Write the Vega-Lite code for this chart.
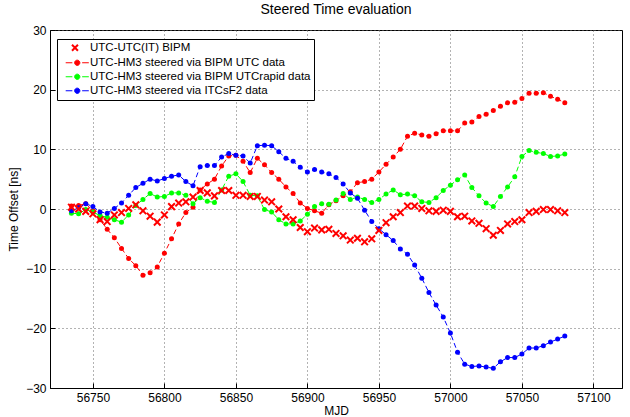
{
  "$schema": "https://vega.github.io/schema/vega-lite/v6.json",
  "width": 572,
  "height": 358,
  "autosize": "none",
  "padding": {"left": 50, "top": 30, "right": 8, "bottom": 29},
  "background": "white",
  "title": {"text": "Steered Time evaluation", "fontSize": 14, "font": "Liberation Sans", "fontWeight": "normal", "color": "black", "offset": 7},
  "data": {"values": [
    {"mjd": 56735, "it": 0.3, "utc": 0.5, "rapid": -0.7, "itcs": -0.3},
    {"mjd": 56740, "it": 0.0, "utc": 0.6, "rapid": -0.8, "itcs": 0.2},
    {"mjd": 56745, "it": -0.4, "utc": 0.9, "rapid": -0.1, "itcs": 0.9},
    {"mjd": 56750, "it": -0.8, "utc": -0.3, "rapid": -0.5, "itcs": 0.4},
    {"mjd": 56755, "it": -1.8, "utc": -1.8, "rapid": -1.1, "itcs": -0.5},
    {"mjd": 56760, "it": -2.1, "utc": -3.4, "rapid": -1.4, "itcs": -0.7},
    {"mjd": 56765, "it": -1.0, "utc": -4.8, "rapid": -1.8, "itcs": 0.1},
    {"mjd": 56770, "it": -0.6, "utc": -6.6, "rapid": -2.2, "itcs": 1.0},
    {"mjd": 56775, "it": 0.1, "utc": -8.3, "rapid": -1.0, "itcs": 2.3},
    {"mjd": 56780, "it": 0.7, "utc": -9.5, "rapid": 0.6, "itcs": 3.6},
    {"mjd": 56785, "it": -0.3, "utc": -11.1, "rapid": 1.6, "itcs": 4.3},
    {"mjd": 56790, "it": -1.2, "utc": -10.7, "rapid": 2.6, "itcs": 5.0},
    {"mjd": 56795, "it": -2.2, "utc": -9.7, "rapid": 2.0, "itcs": 4.7},
    {"mjd": 56800, "it": -1.0, "utc": -7.4, "rapid": 2.1, "itcs": 5.1},
    {"mjd": 56805, "it": 0.4, "utc": -5.0, "rapid": 2.7, "itcs": 5.5},
    {"mjd": 56810, "it": 1.0, "utc": -2.5, "rapid": 2.7, "itcs": 5.7},
    {"mjd": 56815, "it": 1.2, "utc": -0.6, "rapid": 2.3, "itcs": 4.6},
    {"mjd": 56820, "it": 2.0, "utc": 0.3, "rapid": 0.9, "itcs": 3.9},
    {"mjd": 56825, "it": 3.1, "utc": 3.2, "rapid": 1.9, "itcs": 7.1},
    {"mjd": 56830, "it": 2.7, "utc": 4.2, "rapid": 1.3, "itcs": 7.3},
    {"mjd": 56835, "it": 2.2, "utc": 5.0, "rapid": 1.1, "itcs": 7.3},
    {"mjd": 56840, "it": 3.1, "utc": 7.2, "rapid": 3.2, "itcs": 8.7},
    {"mjd": 56845, "it": 3.1, "utc": 8.9, "rapid": 5.5, "itcs": 9.3},
    {"mjd": 56850, "it": 2.3, "utc": 9.0, "rapid": 5.9, "itcs": 9.0},
    {"mjd": 56855, "it": 2.3, "utc": 8.0, "rapid": 4.6, "itcs": 8.9},
    {"mjd": 56860, "it": 2.1, "utc": 6.1, "rapid": 2.3, "itcs": 7.7},
    {"mjd": 56865, "it": 2.1, "utc": 8.5, "rapid": 2.2, "itcs": 10.6},
    {"mjd": 56870, "it": 1.5, "utc": 7.4, "rapid": -0.1, "itcs": 10.7},
    {"mjd": 56875, "it": 1.2, "utc": 6.1, "rapid": -0.5, "itcs": 10.6},
    {"mjd": 56880, "it": 0.0, "utc": 5.0, "rapid": -1.8, "itcs": 9.6},
    {"mjd": 56885, "it": -1.3, "utc": 3.7, "rapid": -2.5, "itcs": 8.5},
    {"mjd": 56890, "it": -1.8, "utc": 2.6, "rapid": -2.5, "itcs": 8.0},
    {"mjd": 56895, "it": -3.1, "utc": 1.0, "rapid": -2.0, "itcs": 7.0},
    {"mjd": 56900, "it": -3.8, "utc": 0.1, "rapid": -0.9, "itcs": 6.2},
    {"mjd": 56905, "it": -3.2, "utc": -0.3, "rapid": 0.4, "itcs": 6.6},
    {"mjd": 56910, "it": -3.5, "utc": -0.7, "rapid": 0.9, "itcs": 6.2},
    {"mjd": 56915, "it": -3.4, "utc": 0.7, "rapid": 0.8, "itcs": 5.9},
    {"mjd": 56920, "it": -4.1, "utc": 1.4, "rapid": 1.5, "itcs": 5.3},
    {"mjd": 56925, "it": -4.5, "utc": 2.2, "rapid": 2.6, "itcs": 4.2},
    {"mjd": 56930, "it": -5.2, "utc": 2.9, "rapid": 1.6, "itcs": 2.7},
    {"mjd": 56935, "it": -4.9, "utc": 4.4, "rapid": 2.0, "itcs": 1.8},
    {"mjd": 56940, "it": -5.5, "utc": 4.6, "rapid": 1.6, "itcs": -0.2},
    {"mjd": 56945, "it": -5.0, "utc": 5.0, "rapid": 1.1, "itcs": -2.1},
    {"mjd": 56950, "it": -3.6, "utc": 6.2, "rapid": 1.6, "itcs": -3.3},
    {"mjd": 56955, "it": -2.3, "utc": 7.5, "rapid": 2.5, "itcs": -4.3},
    {"mjd": 56960, "it": -1.3, "utc": 8.7, "rapid": 3.2, "itcs": -5.3},
    {"mjd": 56965, "it": -0.6, "utc": 10.0, "rapid": 2.4, "itcs": -6.7},
    {"mjd": 56970, "it": 0.5, "utc": 12.2, "rapid": 2.5, "itcs": -7.6},
    {"mjd": 56975, "it": 0.5, "utc": 12.7, "rapid": 2.2, "itcs": -9.4},
    {"mjd": 56980, "it": 0.1, "utc": 12.4, "rapid": 1.2, "itcs": -11.6},
    {"mjd": 56985, "it": -0.3, "utc": 12.2, "rapid": 1.1, "itcs": -14.0},
    {"mjd": 56990, "it": -0.4, "utc": 12.6, "rapid": 1.9, "itcs": -16.1},
    {"mjd": 56995, "it": -0.2, "utc": 13.1, "rapid": 3.1, "itcs": -18.1},
    {"mjd": 57000, "it": -0.4, "utc": 13.1, "rapid": 4.0, "itcs": -20.8},
    {"mjd": 57005, "it": -1.3, "utc": 13.1, "rapid": 4.9, "itcs": -24.0},
    {"mjd": 57010, "it": -1.2, "utc": 14.4, "rapid": 5.7, "itcs": -26.0},
    {"mjd": 57015, "it": -2.0, "utc": 14.6, "rapid": 3.6, "itcs": -26.4},
    {"mjd": 57020, "it": -2.4, "utc": 15.5, "rapid": 2.2, "itcs": -26.3},
    {"mjd": 57025, "it": -3.3, "utc": 15.9, "rapid": 1.0, "itcs": -26.5},
    {"mjd": 57030, "it": -4.4, "utc": 16.5, "rapid": 0.4, "itcs": -26.7},
    {"mjd": 57035, "it": -3.6, "utc": 17.2, "rapid": 2.1, "itcs": -25.6},
    {"mjd": 57040, "it": -2.5, "utc": 17.8, "rapid": 3.7, "itcs": -24.9},
    {"mjd": 57045, "it": -2.1, "utc": 17.9, "rapid": 5.4, "itcs": -24.9},
    {"mjd": 57050, "it": -1.8, "utc": 18.5, "rapid": 8.8, "itcs": -24.3},
    {"mjd": 57055, "it": -0.6, "utc": 19.4, "rapid": 9.8, "itcs": -23.3},
    {"mjd": 57060, "it": -0.4, "utc": 19.4, "rapid": 9.5, "itcs": -23.3},
    {"mjd": 57065, "it": -0.1, "utc": 19.5, "rapid": 9.3, "itcs": -22.9},
    {"mjd": 57070, "it": -0.1, "utc": 18.9, "rapid": 8.8, "itcs": -22.3},
    {"mjd": 57075, "it": -0.3, "utc": 18.4, "rapid": 8.9, "itcs": -21.8},
    {"mjd": 57080, "it": -0.6, "utc": 17.8, "rapid": 9.2, "itcs": -21.3}
  ]},
  "transform": [{"fold": ["it", "utc", "rapid", "itcs"], "as": ["series", "value"]}],
  "encoding": {
    "x": {"field": "mjd", "type": "quantitative",
      "scale": {"domain": [56720, 57120], "nice": false, "zero": false},
      "axis": {"values": [56750, 56800, 56850, 56900, 56950, 57000, 57050, 57100], "format": "d", "title": "MJD", "titlePadding": 2}},
    "y": {"field": "value", "type": "quantitative",
      "scale": {"domain": [-30, 30], "nice": false},
      "axis": {"values": [-30, -20, -10, 0, 10, 20, 30], "title": "Time Offset [ns]", "titlePadding": 5}},
    "color": {"field": "series", "type": "nominal",
      "scale": {"domain": ["it", "utc", "rapid", "itcs"], "range": ["#ff0000", "#ff0000", "#00ff00", "#0000ff"]},
      "legend": {
        "title": null, "orient": "none", "legendX": 7, "legendY": 9,
        "padding": 3, "rowPadding": 1, "strokeColor": "black", "fillColor": "white",
        "labelFont": "Liberation Sans", "labelFontSize": 11.5, "labelColor": "black", "labelLimit": 400,
        "symbolSize": 49, "symbolOffset": 11.5, "labelOffset": 7,
        "labelExpr": "datum.value === 'it' ? 'UTC-UTC(IT) BIPM' : datum.value === 'utc' ? 'UTC-HM3 steered via BIPM UTC data' : datum.value === 'rapid' ? 'UTC-HM3 steered via BIPM UTCrapid data' : 'UTC-HM3 steered via ITCsF2 data'",
        "encode": {"symbols": {"update": {
          "shape": {"signal": "datum.value === 'it' ? 'M-1.5,-0.85L0.2,0.85M-1.5,0.85L0.2,-0.85' : 'M-3.3,0L-1.4,0M1.4,0L3.3,0M0.75,0A0.75,0.75 0 1,1 -0.75,0A0.75,0.75 0 1,1 0.75,0Z'"},
          "fill": {"scale": "color", "field": "value"},
          "stroke": {"scale": "color", "field": "value"},
          "strokeWidth": {"signal": "datum.value === 'it' ? 2 : 1"},
          "opacity": {"value": 1}
        }}}
      }}
  },
  "layer": [
    {"transform": [{"filter": "datum.series !== 'it'"}],
     "mark": {"type": "line", "strokeDash": [5, 3], "strokeWidth": 1}},
    {"transform": [{"filter": "datum.series !== 'it'"}],
     "mark": {"type": "point", "shape": "circle", "filled": true, "size": 25, "opacity": 1}},
    {"transform": [{"filter": "datum.series === 'it'"}],
     "mark": {"type": "point", "shape": "M-1,-1L1,1M-1,1L1,-1", "filled": false, "size": 44, "strokeWidth": 2, "opacity": 1}}
  ],
  "config": {
    "view": {"stroke": "black", "strokeWidth": 1},
    "font": "Liberation Sans",
    "axis": {
      "domainColor": "black", "tickColor": "black", "labelColor": "black", "titleColor": "black",
      "labelFont": "Liberation Sans", "titleFont": "Liberation Sans", "labelFontSize": 12, "titleFontSize": 12,
      "titleFontWeight": "normal", "gridColor": "#666666", "gridDash": [1, 3], "gridWidth": 1, "gridOpacity": 1,
      "tickSize": -5, "labelPadding": 9, "grid": true
    }
  }
}
